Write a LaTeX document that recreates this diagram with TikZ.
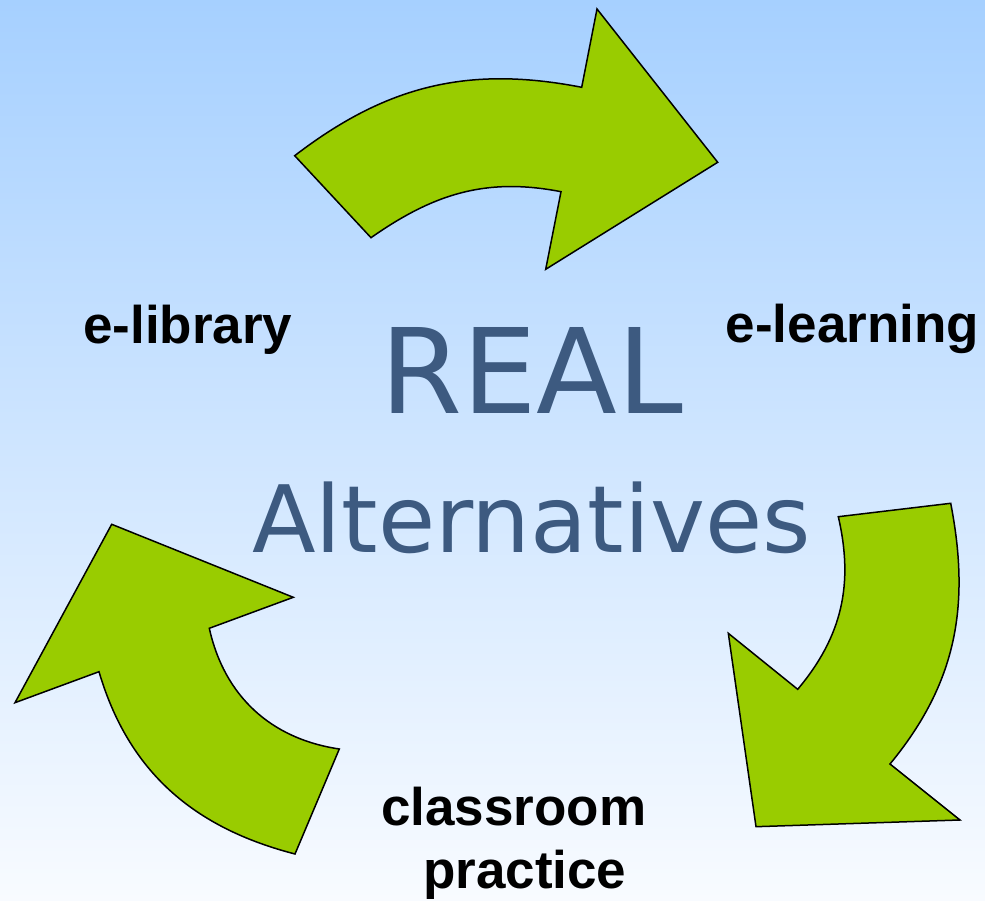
\documentclass[tikz,border=0pt]{standalone}
\usepackage{fontspec}
\setmainfont{Liberation Sans}
\newfontfamily\titlefont{DejaVu Sans}
\definecolor{skytop}{RGB}{166,208,255}
\definecolor{skymid}{RGB}{214,232,255}
\definecolor{skybottom}{RGB}{248,251,255}
\definecolor{arrowgreen}{RGB}{153,204,0}
\definecolor{titleblue}{RGB}{61,90,128}
\tikzset{
  cyclearrow/.style={fill=arrowgreen, draw=black, line width=1.5pt, line join=miter},
  label/.style={inner sep=0pt, anchor=base west, font=\fontsize{53}{60}\selectfont\bfseries, text=black},
  headline/.style={inner sep=0pt, anchor=base west, text=titleblue},
}
\begin{document}
\begin{tikzpicture}[x=1pt, y=1pt]
  % background
  \useasboundingbox (0,0) rectangle (985,900);
  \shade[top color=skytop, middle color=skymid, bottom color=skybottom] (0,0) rectangle (985,900);

  % top arrow (e-library -> e-learning)
  \coordinate (t1) at (294.7,744.3);
  \coordinate (t2) at (581.7,812.7);
  \coordinate (t3) at (597,891);
  \coordinate (t4) at (717.7,737.7);
  \coordinate (t5) at (545.7,630.7);
  \coordinate (t6) at (561,708.3);
  \coordinate (t7) at (371,662.3);
  \draw[cyclearrow] (t1) to[out=37.5, in=169] (t2) -- (t3) -- (t4) -- (t5) -- (t6)
    to[out=169, in=35] (t7) -- cycle;

  % right arrow (e-learning -> classroom practice)
  \coordinate (r1) at (838.3,383.3);
  \coordinate (r2) at (797.7,210.7);
  \coordinate (r3) at (728.3,266.7);
  \coordinate (r4) at (756,73.3);
  \coordinate (r5) at (960,80);
  \coordinate (r6) at (890,136);
  \coordinate (r7) at (950.7,396.7);
  \draw[cyclearrow] (r1) to[out=-77, in=50] (r2) -- (r3) -- (r4) -- (r5) -- (r6)
    to[out=50.5, in=-79] (r7) -- cycle;

  % left arrow (classroom practice -> e-library)
  \coordinate (l1) at (111.7,375.7);
  \coordinate (l2) at (293.3,302.7);
  \coordinate (l3) at (209.3,271.7);
  \coordinate (l4) at (339.3,151);
  \coordinate (l5) at (295,46);
  \coordinate (l6) at (99,228.3);
  \coordinate (l7) at (15,197.3);
  \draw[cyclearrow] (l1) -- (l2) -- (l3) to[out=-77.5, in=171.6] (l4) -- (l5)
    to[out=165.5, in=-73.6] (l6) -- (l7) -- cycle;

  % title
  \node[headline, font=\titlefont\fontsize{118}{130}\selectfont] (real) at (380,486.7) {REAL};
  \node[headline, font=\titlefont\fontsize{93}{110}\selectfont] (alt) at (252,347.3) {Alternatives};

  % labels
  \node[label] (elib) at (83,556.7) {e-library};
  \node[label] (elearn) at (725.5,557) {e-learning};
  \node[label] (class) at (381,75) {classroom};
  \node[label] (pract) at (423,12) {practice};
\end{tikzpicture}
\end{document}
